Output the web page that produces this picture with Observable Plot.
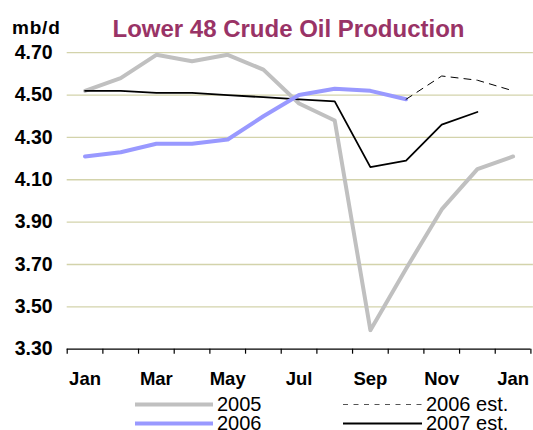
<!DOCTYPE html>
<html>
<head>
<meta charset="utf-8">
<script src="https://cdn.jsdelivr.net/npm/d3@7"></script>
<script src="https://cdn.jsdelivr.net/npm/@observablehq/plot@0.6"></script>
<style>
  html, body { margin: 0; padding: 0; background: #fff; overflow: hidden; }
  body { width: 533px; height: 430px; position: relative; font-family: "Liberation Sans", Arial, sans-serif; }
  #title { position: absolute; left: 0; width: 577px; top: 15px; text-align: center; font-weight: bold; font-size: 24px; line-height: 27px; color: #993366; white-space: nowrap; }
  #unit { position: absolute; left: 12px; top: 17px; font-weight: bold; font-size: 19px; letter-spacing: 0.8px; color: #000; }
  #chart { position: absolute; left: 0; top: 0; }
  .leg { position: absolute; font-size: 20px; line-height: 19px; height: 19px; color: #000; white-space: nowrap; display: flex; align-items: center; }
  .leg svg { margin-right: 4px; }
</style>
</head>
<body>
<div id="chart"></div>
<div id="unit">mb/d</div>
<div id="title">Lower 48 Crude Oil Production</div>
<div id="legend"></div>
<script>
const months = ["Jan","Feb","Mar","Apr","May","Jun","Jul","Aug","Sep","Oct","Nov","Dec","Jan"];
const y2005 = [4.52,4.58,4.69,4.66,4.69,4.62,4.46,4.38,3.39,3.68,3.96,4.15,4.21];
const y2006 = [4.21,4.23,4.27,4.27,4.29,4.40,4.50,4.53,4.52,4.48];
const y2006est = [null,null,null,null,null,null,null,null,null,4.48,4.59,4.57,4.52];
const y2007est = [4.52,4.52,4.51,4.51,4.50,4.49,4.48,4.47,4.16,4.19,4.36,4.42];
const yTicks = [3.30,3.50,3.70,3.90,4.10,4.30,4.50,4.70];
const seriesNames = ["2005","2006","2006 est.","2007 est."];

const toRows = arr => arr.map((v, i) => ({i, v}));
const font = '"Liberation Sans", Arial, sans-serif';
const grid = "#d3d3ab";

const chart = Plot.plot({
  width: 533,
  height: 395,
  marginLeft: 66.7,
  marginRight: 2.6,
  marginTop: 52.2,
  marginBottom: 46.3,
  style: {fontFamily: font, background: "transparent", overflow: "visible"},
  x: {type: "linear", domain: [-0.5, months.length - 0.5]},
  y: {type: "linear", domain: [3.3, 4.7]},
  marks: [
    Plot.ruleY(yTicks.slice(1), {stroke: grid, strokeWidth: 1.3, x1: -0.5, x2: months.length - 0.43}),
    Plot.axisY(yTicks, {tickSize: 0, tickPadding: 14.5, tickFormat: d => d.toFixed(2), fontSize: 19.5, fontWeight: "bold", fill: "#000", label: null}),
    Plot.axisX(d3.range(months.length + 1).map(k => k - 0.5), {tickSize: 5, tickFormat: () => "", stroke: "#000", strokeWidth: 1.2, label: null}),
    Plot.axisX(d3.range(0, months.length, 2), {tickSize: 0, tickPadding: 23, tickFormat: i => months[i], fontSize: 18.5, fontWeight: "bold", fill: "#000", label: null}),
    Plot.ruleY([3.3], {stroke: "#000", strokeWidth: 1.3}),
    Plot.line(toRows(y2005), {x: "i", y: "v", stroke: "#c0c0c0", strokeWidth: 4}),
    Plot.line(toRows(y2007est), {x: "i", y: "v", stroke: "#000", strokeWidth: 1.8}),
    Plot.line(toRows(y2006), {x: "i", y: "v", stroke: "#9999ff", strokeWidth: 4}),
    Plot.line(toRows(y2006est), {x: "i", y: "v", stroke: "#000", strokeWidth: 1, strokeDasharray: "7,6"})
  ]
});
document.getElementById("chart").appendChild(chart);

const legendSpecs = [
  {name: seriesNames[0], left: 135, top: 394.5, stroke: "#c0c0c0", w: 4, dash: null, len: 78},
  {name: seriesNames[1], left: 135, top: 413.5, stroke: "#9999ff", w: 4, dash: null, len: 78},
  {name: seriesNames[2], left: 343, top: 394.5, stroke: "#555", w: 1, dash: "5,5.5", len: 79},
  {name: seriesNames[3], left: 343, top: 413.5, stroke: "#000", w: 1.8, dash: null, len: 79}
];
const legend = document.getElementById("legend");
for (const s of legendSpecs) {
  const div = document.createElement("div");
  div.className = "leg";
  div.style.left = s.left + "px";
  div.style.top = s.top + "px";
  div.innerHTML = `<svg width="${s.len}" height="19"><line x1="0" x2="${s.len}" y1="9.5" y2="9.5" stroke="${s.stroke}" stroke-width="${s.w}" ${s.dash ? `stroke-dasharray="${s.dash}"` : ""}/></svg><span>${s.name}</span>`;
  legend.appendChild(div);
}
</script>
</body>
</html>
